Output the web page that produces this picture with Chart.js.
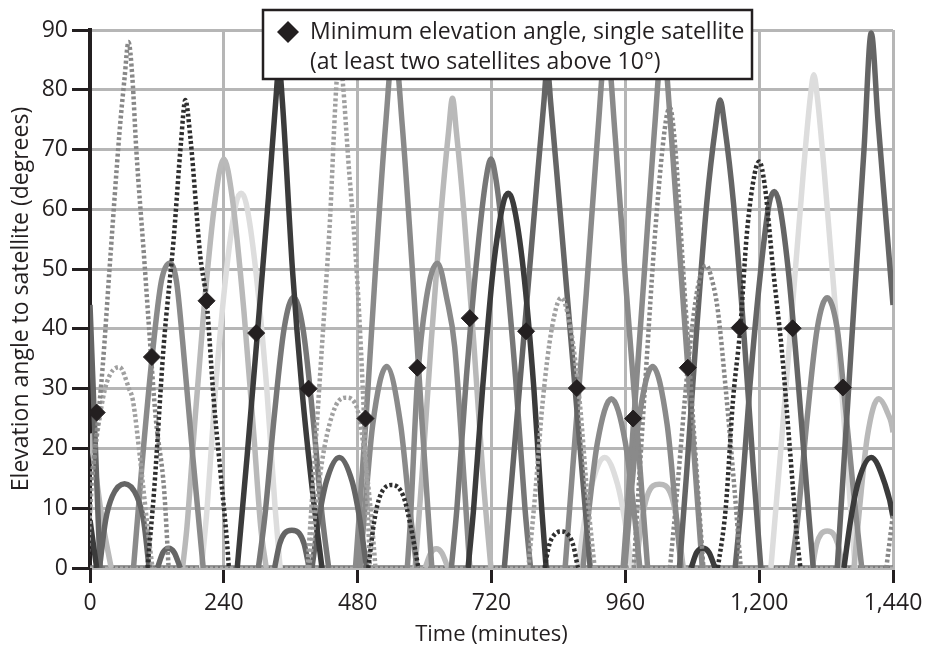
<!DOCTYPE html>
<html>
<head>
<meta charset="utf-8">
<script src="https://cdn.jsdelivr.net/npm/chart.js@4.4.1/dist/chart.umd.min.js"></script>
<style>
  body { margin: 0; background: #fff; }
</style>
</head>
<body>
<canvas id="elevation-chart" width="932" height="648"></canvas>
<script>
// each pass is a list of [time (min), elevation (deg)]
var solidDark = [
    [[264,0],[282,19],[300,39],[320,62],[333,78],[339,84],[345,78],[363,50],[380,30],[400,12],[416,0]],
    [[678,0],[688,10],[704,30],[723,50],[741,61],[750,62.7],[759,61],[777,50],[796,30],[810,10],[818,0]],
    [[1078,0],[1088,2.6],[1099,3.3],[1110,2.6],[1121,0]],
    [[1352,0],[1364,8],[1378,14.5],[1401,18.5],[1424,14.5],[1440,8.5],[1450,0]],
    [[0,8],[6,4],[12,0]]
];
var solidDarkGray = [
    [[17,0],[28,8],[40,12],[62,14.1],[84,12],[96,8],[106,0]],
    [[121,0],[131,2.6],[141,3.3],[151,2.6],[162,0]],
    [[331,0],[340,4],[349,5.8],[362,6.3],[375,5.8],[384,4],[393,0]],
    [[398,0],[410,8],[424,14.5],[447,18.5],[470,14.5],[484,8],[496,0]],
    [[743,0],[761,20],[781,42],[801,64],[814,78],[820,84],[826,78],[839,64],[859,42],[879,20],[897,0]],
    [[1057,0],[1070,16],[1088,40],[1106,61],[1122,74],[1130,78.3],[1138,74],[1154,61],[1172,40],[1190,16],[1203,0]],
    [[1157,0],[1167,10],[1183,30],[1203,50],[1218,61],[1227,63],[1236,61],[1252,50],[1271,30],[1288,10],[1297,0]],
    [[1340,0],[1355,22],[1370,44],[1388,70],[1401,89.5],[1413,75],[1426,60],[1440,44],[1475,0]],
    [[0,44],[9,22],[18,0]]
];
var solidMidDark = [
    [[302,0],[314,9],[330,25],[348,40],[365,45.3],[382,40],[400,25],[416,9],[428,0]],
    [[648,0],[658,10],[675,32],[695,53],[710,65],[719,68.4],[728,65],[743,53],[763,32],[780,10],[790,0]]
];
var solidMid = [
    [[78,0],[93,17],[111,35],[128,48],[143,51],[155,48],[166,38],[184,19],[203,0]],
    [[484,0],[494,11],[507,24],[532,33.7],[557,24],[572,11],[586,0]],
    [[476,0],[495,25],[512,50],[530,74],[545,88],[560,74],[578,50],[595,25],[613,0]],
    [[569,0],[574,7],[587,31],[603,45],[623,51],[640,45],[654,37],[672,13],[681,0]],
    [[852,0],[870,22],[890,46],[910,72],[926,88],[942,72],[962,46],[982,22],[1000,0]],
    [[884,0],[895,10],[910,21],[935,28.3],[960,21],[975,10],[986,0]],
    [[959,0],[969,11],[983,24],[1009,33.7],[1035,24],[1049,11],[1060,0]],
    [[956,0],[973,22],[993,48],[1012,73],[1027,88],[1042,73],[1061,48],[1081,22],[1098,0]],
    [[1258,0],[1270,9],[1286,25],[1304,40],[1322,45.2],[1340,40],[1351,30.4],[1370,12],[1384,0]]
];
var solidLight = [
    [[166,0],[174,7],[186,22],[204,43],[225,62],[240,68.4],[255,62],[276,43],[294,22],[306,7],[316,0]],
    [[601,0],[611,2.5],[621,3.2],[631,2.5],[642,0]],
    [[583,0],[595,15],[612,38],[630,60],[643,73],[650,78.6],[657,73],[670,60],[688,38],[705,15],[719,0]],
    [[979,0],[988,7],[999,12],[1021,14],[1043,12],[1054,7],[1064,0]],
    [[1295,0],[1303,4],[1311,5.7],[1322,6.2],[1333,5.7],[1341,4],[1350,0]],
    [[1370,0],[1380,10],[1394,22],[1414,28.3],[1430,26],[1440,22.7],[1460,0]],
    [[0,22.5],[10,16],[22,8],[38,0]]
];
var solidPale = [
    [[200,0],[210,10],[225,30],[245,50],[262,61],[271,62.7],[280,61],[297,50],[317,30],[332,10],[341,0]],
    [[875,0],[887,8],[900,14],[923,18.5],[946,14],[959,8],[971,0]],
    [[1221,0],[1239,20],[1259,43],[1279,66],[1292,79],[1298,82.5],[1304,79],[1317,66],[1337,43],[1356,20],[1372,0]]
];
var dottedDark = [
    [[103,0],[115,13],[132,37],[150,55],[163,71],[171,78.3],[180,72],[198,52],[209,44.7],[222,28],[234,16],[246,4],[249,0]],
    [[499,0],[510,8],[520,12],[541,13.9],[562,12],[575,7],[589,0]],
    [[815,0],[824,4],[833,5.6],[845,6.1],[857,5.6],[866,4],[875,0]],
    [[1126,0],[1140,10],[1153,28],[1166,40],[1178,56],[1192,66],[1200,68],[1210,64],[1225,50],[1241,36],[1255,20],[1268,5],[1274,0]]
];
var dottedMid = [
    [[-10,0],[0,13],[8,19],[23,34],[35,50],[53,73],[62,82],[69,88],[76,82],[83,70],[97,52],[106,40],[118,25],[133,13],[141,0]],
    [[975,0],[995,30],[1015,58],[1033,75],[1040,77],[1048,72],[1065,48],[1085,20],[1100,0]],
    [[1040,0],[1052,12],[1072,33.5],[1090,47],[1105,50.6],[1116,48],[1126,43],[1140,30],[1155,14],[1167,0]],
    [[1428,0],[1440,9]]
];
var dottedLight = [
    [[-5,0],[0,9],[5,16],[17,25],[30,31],[53,33.6],[70,30],[77,28],[89,19],[103,7],[112,0]],
    [[390,0],[411,30],[429,56],[447,85],[465,66],[480,47],[492,24],[502,0]],
    [[393,0],[405,10],[420,20],[440,27],[459,28.5],[478,27],[495,17],[505,8],[512,0]],
    [[786,0],[798,12],[812,28],[828,40],[845,45.2],[862,40],[878,28],[892,12],[905,0]]
];
// all satellites sit at 0 deg while below the horizon
var belowHorizon = [[0,0],[1440,0]];

var minElevTime  = [12, 111, 209, 298, 392, 494, 587, 681, 782, 873, 974, 1072, 1165, 1260, 1350];
var minElevAngle = [26, 35.3, 44.7, 39.3, 30, 25, 33.5, 41.8, 39.6, 30.1, 25, 33.5, 40.2, 40.1, 30.2];

var legendLines = ['Minimum elevation angle, single satellite', '(at least two satellites above 10\u00B0)'];

var FONT = '"Open Sans", "DejaVu Sans", sans-serif';
var INK = '#231f20';
var GRID = '#b6b6b6';

var datasets = [];

function addGroup(passes, color, width, dash, order) {
    passes.forEach(function (pass) {
        datasets.push({
            data: pass.map(function (p) { return {x: p[0], y: p[1]}; }),
            borderColor: color,
            borderWidth: width,
            borderDash: dash,
            borderCapStyle: 'butt',
            pointRadius: 0,
            cubicInterpolationMode: 'monotone',
            fill: false,
            order: order
        });
    });
}

datasets.push({
    data: minElevTime.map(function (t, i) { return {x: t, y: minElevAngle[i]}; }),
    showLine: false,
    pointStyle: 'rectRot',
    pointRadius: 8.5,
    pointBackgroundColor: INK,
    pointBorderColor: INK,
    pointBorderWidth: 1,
    order: 0
});

addGroup(dottedDark, '#2e2e2e', 4.5, [3, 2.5], 1);
addGroup(dottedMid, '#888888', 4.5, [3, 2.5], 1);
addGroup(dottedLight, '#a0a0a0', 4.5, [3, 2.5], 1);
addGroup(solidDark, '#3b3b3b', 5.5, [], 2);
addGroup(solidDarkGray, '#656565', 5.5, [], 3);
addGroup(solidMidDark, '#777777', 5.5, [], 3);
addGroup(solidMid, '#8a8a8a', 5.5, [], 4);
addGroup(solidLight, '#b9b9b9', 5.5, [], 5);
addGroup(solidPale, '#dddddd', 5.5, [], 6);
addGroup([belowHorizon], '#aaaaaa', 3, [3, 2], 7);
addGroup([belowHorizon], '#7a7a7a', 5.5, [], 8);

// legend box drawn over the plot, top centre
var legendBox = {
    id: 'legendBox',
    afterDraw: function (chart) {
        var c = chart.ctx;
        c.save();
        c.fillStyle = '#fff';
        c.fillRect(263, 10, 489, 69);
        c.strokeStyle = INK;
        c.lineWidth = 2.5;
        c.strokeRect(263, 10, 489, 69);
        c.fillStyle = INK;
        c.beginPath();
        c.moveTo(288, 21);
        c.lineTo(299, 32);
        c.lineTo(288, 43);
        c.lineTo(277, 32);
        c.closePath();
        c.fill();
        c.font = '23px ' + FONT;
        c.textBaseline = 'middle';
        c.fillText(legendLines[0], 310, 32);
        c.fillText(legendLines[1], 310, 62);
        c.restore();
    }
};

var ctx = document.getElementById('elevation-chart');
var elevationChart = new Chart(ctx, {
    type: 'line',
    data: { datasets: datasets },
    options: {
        responsive: false,
        animation: false,
        devicePixelRatio: 1,
        layout: { padding: { left: 0, right: 39, top: 30, bottom: 0 } },
        plugins: { legend: { display: false }, tooltip: { enabled: false } },
        scales: {
            x: {
                type: 'linear',
                min: 0,
                max: 1440,
                ticks: {
                    stepSize: 240,
                    maxRotation: 0,
                    padding: 7,
                    color: INK,
                    font: { family: FONT, size: 23 },
                    callback: function (v) { return v.toLocaleString('en-US'); }
                },
                grid: {
                    color: function (c) { return c.tick && c.tick.value === 0 ? 'rgba(0,0,0,0)' : GRID; },
                    lineWidth: 3,
                    tickColor: INK,
                    tickWidth: 3,
                    tickLength: 15
                },
                border: { color: GRID, width: 3 },
                title: {
                    display: true,
                    text: 'Time (minutes)',
                    color: INK,
                    font: { family: FONT, size: 22 },
                    padding: { top: 0, bottom: 0 }
                },
                afterFit: function (scale) { scale.height = 80; }
            },
            y: {
                min: 0,
                max: 90,
                ticks: {
                    stepSize: 10,
                    padding: 4,
                    color: INK,
                    font: { family: FONT, size: 23 }
                },
                grid: {
                    color: GRID,
                    lineWidth: 3,
                    tickColor: INK,
                    tickWidth: 3,
                    tickLength: 18
                },
                border: { color: INK, width: 4 },
                title: {
                    display: true,
                    text: 'Elevation angle to satellite (degrees)',
                    color: INK,
                    font: { family: FONT, size: 23 },
                    padding: { top: 8, bottom: 8 }
                },
                afterFit: function (scale) { scale.width = 90; }
            }
        }
    },
    plugins: [legendBox]
});
</script>
</body>
</html>
